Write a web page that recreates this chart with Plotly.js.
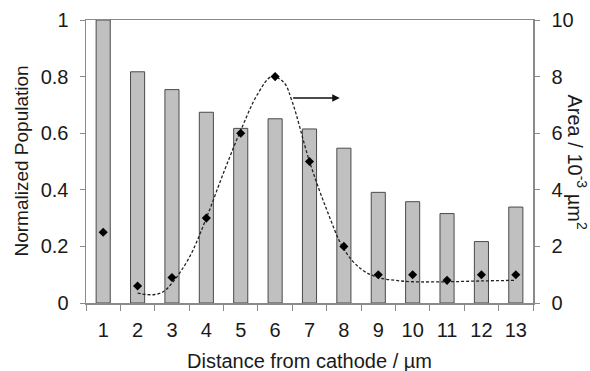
<!DOCTYPE html>
<html>
<head>
<meta charset="utf-8">
<script src="https://cdn.plot.ly/plotly-3.0.1.min.js"></script>
<style>html,body{margin:0;padding:0;background:#fff;}#chart{width:590px;height:371px;}</style>
</head>
<body>
<div id="chart"></div>
<script>
// Distance from cathode (µm)
const distance = [1,2,3,4,5,6,7,8,9,10,11,12,13];
// Normalized population (bars, left axis)
const population = [1.0,0.817,0.754,0.674,0.617,0.651,0.615,0.547,0.391,0.358,0.316,0.217,0.339];
// Area / 10^-3 µm² (diamond markers, right axis)
const area = [2.5,0.6,0.9,3.0,6.0,8.0,5.0,2.0,1.0,1.0,0.8,1.0,1.0];
// Dashed fitted curve (right axis)
const fitX = [2,2.25,2.5,2.75,3,3.5,4,4.5,5,5.5,5.9,6.25,6.5,7,7.5,8,8.5,9,9.5,10,11,12,13];
const fitY = [0.35,0.3,0.3,0.4,0.7,1.6,3.0,4.6,6.1,7.4,8.0,7.8,7.1,5.0,3.3,1.9,1.2,0.9,0.8,0.75,0.75,0.78,0.8];
// Arrow pointing to the right axis
const arrowFrom = [6.48, 7.24];
const arrowTo = [7.88, 7.24];

const leftTicks = [0,0.2,0.4,0.6,0.8,1];
const leftLabels = ['0','0.2','0.4','0.6','0.8','1'];
const rightTicks = [0,2,4,6,8,10];

const txt = '#1a1a1a';
const axc = '#8a8a8a';
const fam = 'Liberation Sans, Arial, sans-serif';
const fnt = {family:fam, size:20, color:txt};
const tfnt = {family:fam, size:20, color:txt};
const yfnt = {family:fam, size:19, color:txt};

const boundaries = distance.map(d => d - 0.5).concat([distance[distance.length-1] + 0.5]);

const traces = [
  {type:'bar', x:distance, y:population, width:0.41, yaxis:'y',
   marker:{color:'#c0c0c0', line:{color:'#4a4a4a', width:1}}, hoverinfo:'skip'},
  {type:'scatter', mode:'lines', x:fitX, y:fitY, yaxis:'y2', line:{shape:'spline', smoothing:1, color:'#222', width:1.3, dash:'3px,2px'}},
  {type:'scatter', mode:'markers', x:distance, y:area, yaxis:'y2', marker:{symbol:'diamond', size:7, color:'#000'}}
];

const layout = {
  width:590, height:371,
  margin:{l:86, r:57, t:20, b:68},
  paper_bgcolor:'#fff', plot_bgcolor:'#fff',
  showlegend:false,
  font:fnt,
  xaxis:{range:[0.5,13.5], tickmode:'array', tickvals:distance, ticktext:distance.map(String),
         ticks:'', showgrid:false, zeroline:false, showline:true, linecolor:axc, linewidth:1.5, mirror:true,
         tickfont:fnt, ticklabelstandoff:8,
         minor:{tickmode:'array', tickvals:boundaries, ticks:'outside', ticklen:6, tickcolor:axc, tickwidth:1, showgrid:false}},
  yaxis:{range:[0,1], tickmode:'array', tickvals:leftTicks, ticktext:leftLabels, ticks:'outside', ticklen:5, tickcolor:axc,
         showgrid:false, zeroline:false, showline:true, linecolor:axc, linewidth:1.5, tickfont:fnt, ticklabelstandoff:7},
  yaxis2:{range:[0,10], overlaying:'y', side:'right', tickmode:'array', tickvals:rightTicks, ticks:'outside', ticklen:5, tickcolor:axc,
         showgrid:false, zeroline:false, showline:true, linecolor:axc, linewidth:1.5, tickfont:fnt, ticklabelstandoff:8},
  annotations:[
    {xref:'x', yref:'y2', x:arrowTo[0], y:arrowTo[1], axref:'x', ayref:'y2', ax:arrowFrom[0], ay:arrowFrom[1],
     showarrow:true, arrowhead:2, arrowsize:1, arrowwidth:1.5, arrowcolor:'#111', text:''},
    {xref:'paper', yref:'paper', x:0.5, y:0, yshift:-58, xanchor:'center', yanchor:'middle', showarrow:false,
     text:'Distance from cathode / µm', font:tfnt},
    {xref:'paper', yref:'paper', x:0, y:0.5, xshift:-65, xanchor:'center', yanchor:'middle', showarrow:false, textangle:-90,
     text:'Normalized Population', font:yfnt},
    {xref:'paper', yref:'paper', x:1, y:0.5, xshift:44, xanchor:'center', yanchor:'middle', showarrow:false, textangle:90,
     text:'Area / 10<sup>-3</sup> µm<sup>2</sup>', font:tfnt}
  ]
};

Plotly.newPlot('chart', traces, layout, {displayModeBar:false, staticPlot:true});
</script>
</body>
</html>
